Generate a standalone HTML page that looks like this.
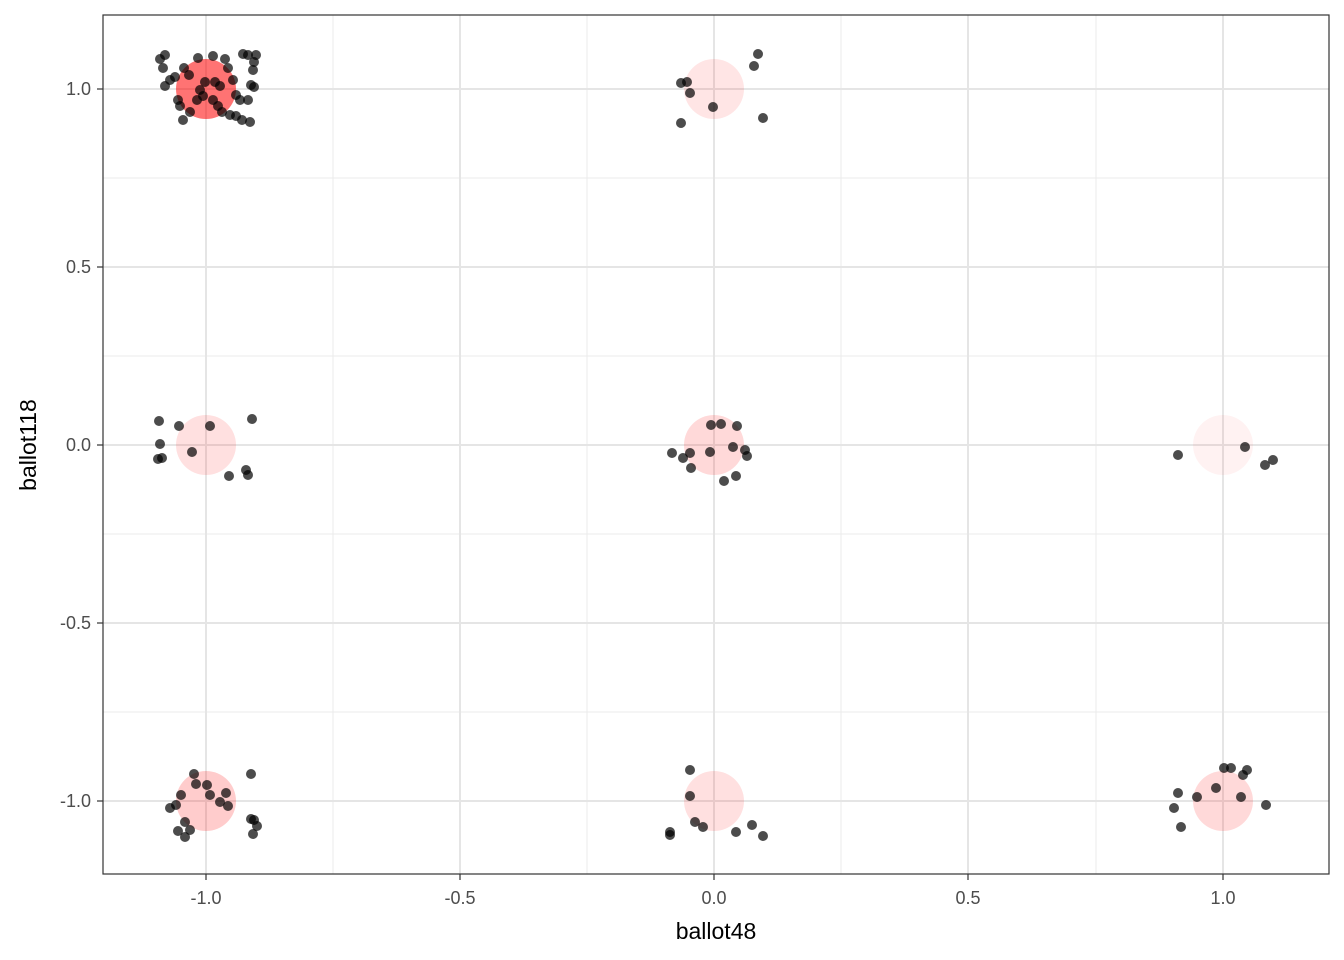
<!DOCTYPE html>
<html><head><style>body{margin:0;background:#fff}svg{display:block}</style></head><body>
<svg width="1344" height="960" xmlns="http://www.w3.org/2000/svg" font-family="Liberation Sans, Arial, sans-serif">
<rect width="1344" height="960" fill="#fff"/>
<g stroke="#ebebeb" stroke-width="1">
<line x1="333" y1="15" x2="333" y2="874"/><line x1="587" y1="15" x2="587" y2="874"/><line x1="841" y1="15" x2="841" y2="874"/><line x1="1096" y1="15" x2="1096" y2="874"/>
<line x1="103" y1="178" x2="1329" y2="178"/><line x1="103" y1="356" x2="1329" y2="356"/><line x1="103" y1="534" x2="1329" y2="534"/><line x1="103" y1="712" x2="1329" y2="712"/>
</g>
<g stroke="#e5e5e5" stroke-width="2">
<line x1="206" y1="15" x2="206" y2="874"/><line x1="460" y1="15" x2="460" y2="874"/><line x1="714" y1="15" x2="714" y2="874"/><line x1="968" y1="15" x2="968" y2="874"/><line x1="1223" y1="15" x2="1223" y2="874"/>
<line x1="103" y1="89" x2="1329" y2="89"/><line x1="103" y1="267" x2="1329" y2="267"/><line x1="103" y1="445" x2="1329" y2="445"/><line x1="103" y1="623" x2="1329" y2="623"/><line x1="103" y1="801" x2="1329" y2="801"/>
</g>
<g fill="#ff0000">
<circle cx="206" cy="89" r="30" fill-opacity="0.55"/>
<circle cx="714" cy="89" r="30" fill-opacity="0.1"/>
<circle cx="206" cy="445" r="30" fill-opacity="0.12"/>
<circle cx="714" cy="445" r="30" fill-opacity="0.15"/>
<circle cx="1223" cy="445" r="30" fill-opacity="0.05"/>
<circle cx="206" cy="801" r="30" fill-opacity="0.2"/>
<circle cx="714" cy="801" r="30" fill-opacity="0.12"/>
<circle cx="1223" cy="801" r="30" fill-opacity="0.15"/>
</g>
<g fill="#000" fill-opacity="0.7">
<circle cx="160" cy="59" r="5"/><circle cx="165" cy="55" r="5"/><circle cx="163" cy="68" r="5"/><circle cx="170" cy="80" r="5"/><circle cx="175" cy="77" r="5"/><circle cx="165" cy="86" r="5"/><circle cx="180" cy="106" r="5"/><circle cx="183" cy="120" r="5"/><circle cx="190" cy="112" r="5"/><circle cx="184" cy="68" r="5"/><circle cx="189" cy="75" r="5"/><circle cx="198" cy="58" r="5"/><circle cx="213" cy="56" r="5"/><circle cx="225" cy="59" r="5"/><circle cx="228" cy="68" r="5"/><circle cx="233" cy="80" r="5"/><circle cx="236" cy="95" r="5"/><circle cx="200" cy="90" r="5"/><circle cx="205" cy="82" r="5"/><circle cx="215" cy="82" r="5"/><circle cx="220" cy="86" r="5"/><circle cx="197" cy="100" r="5"/><circle cx="203" cy="96" r="5"/><circle cx="213" cy="100" r="5"/><circle cx="218" cy="106" r="5"/><circle cx="222" cy="112" r="5"/><circle cx="230" cy="115" r="5"/><circle cx="236" cy="116" r="5"/><circle cx="243" cy="54" r="5"/><circle cx="248" cy="55" r="5"/><circle cx="256" cy="55" r="5"/><circle cx="254" cy="62" r="5"/><circle cx="253" cy="70" r="5"/><circle cx="251" cy="85" r="5"/><circle cx="254" cy="87" r="5"/><circle cx="240" cy="100" r="5"/><circle cx="248" cy="100" r="5"/><circle cx="242" cy="120" r="5"/><circle cx="250" cy="122" r="5"/><circle cx="178" cy="100" r="5"/>
<circle cx="681" cy="83" r="5"/><circle cx="687" cy="82" r="5"/><circle cx="690" cy="93" r="5"/><circle cx="713" cy="107" r="5"/><circle cx="681" cy="123" r="5"/><circle cx="754" cy="66" r="5"/><circle cx="758" cy="54" r="5"/><circle cx="763" cy="118" r="5"/>
<circle cx="159" cy="421" r="5"/><circle cx="179" cy="426" r="5"/><circle cx="160" cy="444" r="5"/><circle cx="158" cy="459" r="5"/><circle cx="162" cy="458" r="5"/><circle cx="192" cy="452" r="5"/><circle cx="210" cy="426" r="5"/><circle cx="252" cy="419" r="5"/><circle cx="229" cy="476" r="5"/><circle cx="246" cy="470" r="5"/><circle cx="248" cy="475" r="5"/>
<circle cx="672" cy="453" r="5"/><circle cx="683" cy="458" r="5"/><circle cx="690" cy="453" r="5"/><circle cx="691" cy="468" r="5"/><circle cx="711" cy="425" r="5"/><circle cx="721" cy="424" r="5"/><circle cx="737" cy="426" r="5"/><circle cx="710" cy="452" r="5"/><circle cx="733" cy="447" r="5"/><circle cx="745" cy="450" r="5"/><circle cx="747" cy="456" r="5"/><circle cx="724" cy="481" r="5"/><circle cx="736" cy="476" r="5"/>
<circle cx="1178" cy="455" r="5"/><circle cx="1245" cy="447" r="5"/><circle cx="1265" cy="465" r="5"/><circle cx="1273" cy="460" r="5"/>
<circle cx="194" cy="774" r="5"/><circle cx="196" cy="784" r="5"/><circle cx="207" cy="785" r="5"/><circle cx="181" cy="795" r="5"/><circle cx="210" cy="795" r="5"/><circle cx="226" cy="793" r="5"/><circle cx="220" cy="802" r="5"/><circle cx="228" cy="806" r="5"/><circle cx="170" cy="808" r="5"/><circle cx="176" cy="805" r="5"/><circle cx="185" cy="822" r="5"/><circle cx="178" cy="831" r="5"/><circle cx="190" cy="830" r="5"/><circle cx="185" cy="837" r="5"/><circle cx="251" cy="774" r="5"/><circle cx="251" cy="819" r="5"/><circle cx="254" cy="820" r="5"/><circle cx="257" cy="826" r="5"/><circle cx="253" cy="834" r="5"/>
<circle cx="690" cy="770" r="5"/><circle cx="690" cy="796" r="5"/><circle cx="695" cy="822" r="5"/><circle cx="703" cy="827" r="5"/><circle cx="670" cy="832" r="5"/><circle cx="670" cy="835" r="5"/><circle cx="736" cy="832" r="5"/><circle cx="752" cy="825" r="5"/><circle cx="763" cy="836" r="5"/>
<circle cx="1224" cy="768" r="5"/><circle cx="1231" cy="768" r="5"/><circle cx="1247" cy="770" r="5"/><circle cx="1243" cy="775" r="5"/><circle cx="1178" cy="793" r="5"/><circle cx="1216" cy="788" r="5"/><circle cx="1197" cy="797" r="5"/><circle cx="1241" cy="797" r="5"/><circle cx="1174" cy="808" r="5"/><circle cx="1266" cy="805" r="5"/><circle cx="1181" cy="827" r="5"/>
</g>
<rect x="103" y="15" width="1226" height="859" fill="none" stroke="#333" stroke-width="1.2"/>
<g stroke="#333" stroke-width="1.2">
<line x1="206" y1="874" x2="206" y2="880"/><line x1="460" y1="874" x2="460" y2="880"/><line x1="714" y1="874" x2="714" y2="880"/><line x1="968" y1="874" x2="968" y2="880"/><line x1="1223" y1="874" x2="1223" y2="880"/>
<line x1="97" y1="89" x2="103" y2="89"/><line x1="97" y1="267" x2="103" y2="267"/><line x1="97" y1="445" x2="103" y2="445"/><line x1="97" y1="623" x2="103" y2="623"/><line x1="97" y1="801" x2="103" y2="801"/>
</g>
<g font-size="18" fill="#4d4d4d" text-anchor="middle">
<text x="206" y="904">-1.0</text><text x="460" y="904">-0.5</text><text x="714" y="904">0.0</text><text x="968" y="904">0.5</text><text x="1223" y="904">1.0</text>
</g>
<g font-size="18" fill="#4d4d4d" text-anchor="end">
<text x="91" y="95">1.0</text><text x="91" y="273">0.5</text><text x="91" y="451">0.0</text><text x="91" y="629">-0.5</text><text x="91" y="807">-1.0</text>
</g>
<text x="716" y="939" font-size="23" text-anchor="middle" fill="#000">ballot48</text>
<text transform="translate(36,445) rotate(-90)" font-size="23" text-anchor="middle" fill="#000">ballot118</text>
</svg>
</body></html>
